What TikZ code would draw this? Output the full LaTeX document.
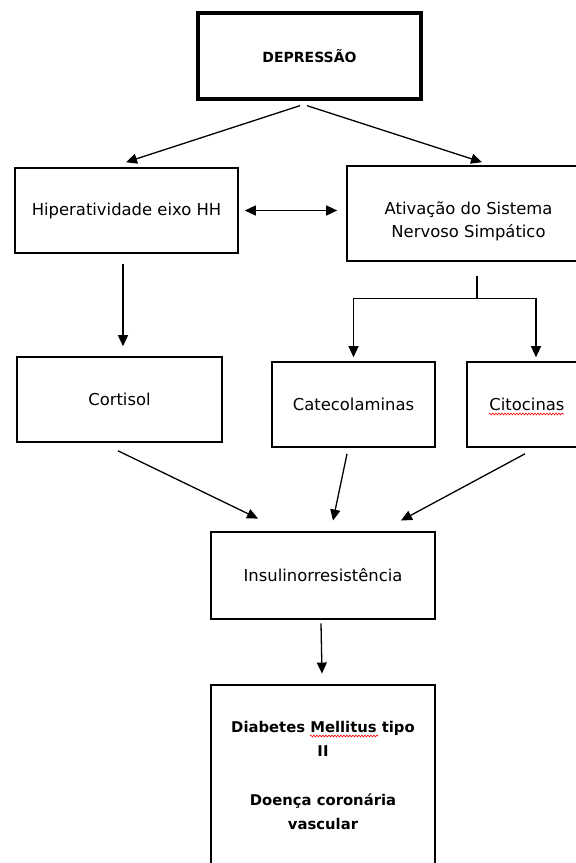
\documentclass[tikz,border=0pt]{standalone}
\usepackage{fontspec}
\setmainfont{DejaVu Sans}
\usetikzlibrary{arrows.meta,decorations.pathmorphing}
\begin{document}
\begin{tikzpicture}[x=1pt,y=-1pt,
  box/.style={draw, line width=1.6pt, rectangle, inner sep=0pt, align=center, font=\fontsize{16.4}{23}\selectfont},
  heavybox/.style={box, line width=2.9pt},
  arr/.style={-{Triangle[length=11pt,width=10pt]}, line width=1.3pt},
  dblarr/.style={{Triangle[length=11pt,width=10pt]}-{Triangle[length=11pt,width=10pt]}, line width=1.3pt},
  plainline/.style={line width=1.3pt},
  boldtxt/.style={font=\fontsize{14.8}{24}\selectfont\bfseries},
  spell/.style={red, line width=0.6pt, decorate, decoration={snake, amplitude=0.9pt, segment length=3pt}}]

\useasboundingbox (0,0) rectangle (576,863);
\fill[white] (0,0) rectangle (576,863);
\clip (0,0) rectangle (576,863);

% boxes
\node[heavybox, line width=3.3pt, minimum width=223pt, minimum height=86pt, font=\fontsize{14}{17}\selectfont\bfseries] (dep) at (309.5,56) {DEPRESSÃO};
\node[box, minimum width=223pt, minimum height=85pt] (hip) at (126.5,210.5) {Hiperatividade eixo HH};
\node[box, minimum width=243pt, minimum height=95pt,
  label={[yshift=-8pt, align=center, font=\fontsize{16.4}{23}\selectfont]center:Ativação do Sistema\\Nervoso Simpático}] (ati) at (468.5,213.5) {};
\node[box, minimum width=205pt, minimum height=85pt] (cor) at (119.5,399.5) {Cortisol};
\node[box, minimum width=163pt, minimum height=85pt] (cat) at (353.5,404.5) {Catecolaminas};
\node[box, minimum width=120pt, minimum height=85pt] (cit) at (527,404.5) {Citocinas};
\node[heavybox, minimum width=224pt, minimum height=87pt] (ins) at (323,575.5) {Insulinorresistência};
\node[heavybox, boldtxt, minimum width=224pt, minimum height=181pt] (dia) at (323,775.5)
  {Diabetes Mellitus tipo\\II\\[25pt]Doença coronária\\vascular};

% connectors
\draw[arr] ([xshift=-9.5pt,yshift=-5pt]dep.south) -- ([xshift=-0.5pt,yshift=5pt]hip.north);
\draw[arr] ([xshift=-2.5pt,yshift=-5pt]dep.south) -- ([xshift=13.5pt,yshift=3pt]ati.north);
\draw[dblarr] ([xshift=6pt]hip.east) -- ([xshift=-9pt]ati.west |- hip.east);
\draw[arr] ([xshift=-3.5pt,yshift=-10pt]hip.south) coordinate (h1) -- ([yshift=10pt]h1 |- cor.north);

\coordinate (br) at ([xshift=8.5pt,yshift=-37pt]ati.south);
\draw[plainline] ([xshift=8.5pt,yshift=-14pt]ati.south) -- (br);
\draw[arr] (br) -| ([yshift=4pt]cat.north);
\draw[arr] (br) -| ([xshift=9pt,yshift=4pt]cit.north);

\draw[arr] ([xshift=-1.5pt,yshift=-8pt]cor.south) -- ([xshift=-65pt,yshift=12pt]ins.north);
\draw[arr] ([xshift=-6.5pt,yshift=-6pt]cat.south) -- ([xshift=10pt,yshift=10pt]ins.north);
\draw[arr] ([xshift=-2pt,yshift=-6pt]cit.south) -- ([xshift=78pt,yshift=10pt]ins.north);
\draw[arr] ([xshift=-2pt,yshift=-3pt]ins.south) -- ([xshift=-1pt,yshift=10pt]dia.north);

% spell-check underlines
\draw[spell] ([xshift=-38pt,yshift=-9.5pt]cit.center) -- ([xshift=37pt,yshift=-9.5pt]cit.center);
\draw[spell] ([xshift=-13pt,yshift=39.5pt]dia.center) -- ([xshift=55pt,yshift=39.5pt]dia.center);
\end{tikzpicture}
\end{document}
